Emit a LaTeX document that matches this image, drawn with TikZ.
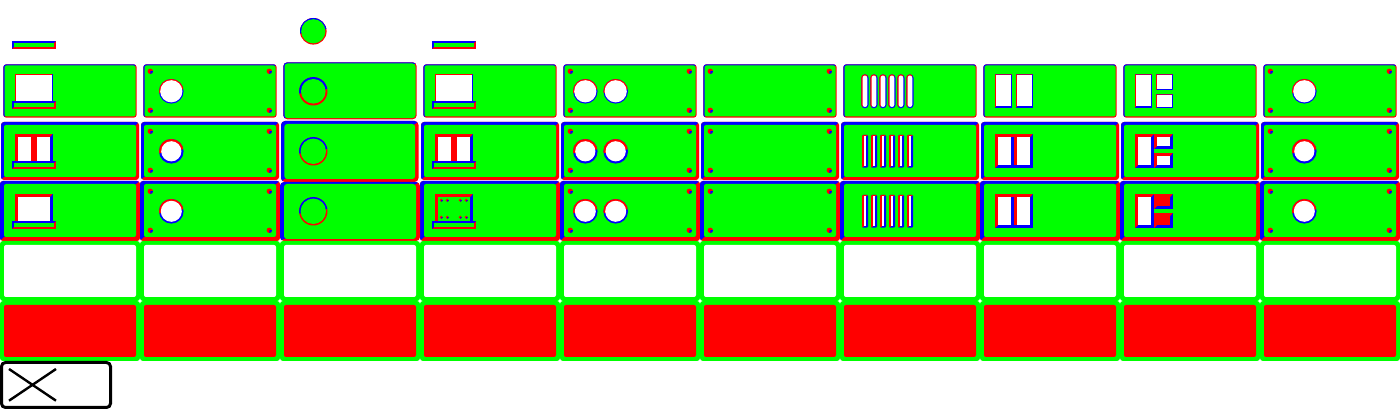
\documentclass[tikz,border=0pt]{standalone}
\definecolor{cb}{RGB}{0,0,255}
\definecolor{cr}{RGB}{255,0,0}
\definecolor{cg}{RGB}{0,255,0}
\def\raisedbv{\def\cA{cb}\def\cB{cr}}
\def\sunkbv{\def\cA{cr}\def\cB{cb}}
\def\bvr{0pt}\def\bvi{0pt}
% x0 y0 x1 y1 l t r b fill
\newcommand\bv[9]{%
 \pgfmathsetmacro\ixa{#1+#5}\pgfmathsetmacro\iya{#2+#6}%
 \pgfmathsetmacro\ixb{#3-#7}\pgfmathsetmacro\iyb{#4-#8}%
 \fill[\cB,rounded corners=\bvr] (#1,#2) rectangle (#3,#4);
 \begin{scope}
 \clip (#1,#2)--(#3,#2)--(\ixb,\iya)--(\ixa,\iyb)--(#1,#4)--cycle;
 \fill[\cA,rounded corners=\bvr] (#1,#2) rectangle (#3,#4);
 \end{scope}
 \fill[#9,rounded corners=\bvi] (\ixa,\iya) rectangle (\ixb,\iyb);
}
% cx cy r t A B fill
\newcommand\ringbv[7]{%
 \pgfmathsetmacro\pxa{#1-1.5*#3}\pgfmathsetmacro\pxb{#1+1.5*#3}%
 \pgfmathsetmacro\pya{#2+0.25*#3}\pgfmathsetmacro\pyb{#2-0.25*#3}%
 \pgfmathsetmacro\pyc{#2-2*#3}\pgfmathsetmacro\rin{#3-#4}%
 \fill[#6] (#1,#2) circle[radius=#3];
 \begin{scope}
 \clip (\pxa,\pya)--(\pxb,\pyb)--(\pxb,\pyc)--(\pxa,\pyc)--cycle;
 \fill[#5] (#1,#2) circle[radius=#3];
 \end{scope}
 \fill[#7] (#1,#2) circle[radius=\rin];
}
% cx cy r
\newcommand\screw[3]{%
 \fill[cr] (#1,#2) circle[radius=#3];
 \begin{scope}
 \clip (#1,#2) rectangle ++(5,5);
 \fill[cb] (#1,#2) circle[radius=#3];
 \end{scope}
}
% four screws of a panel, local x, row offset
\newcommand\fourscrews[1]{%
 \pgfmathsetmacro\sya{71.3+#1}\pgfmathsetmacro\syb{110.3+#1}%
 \screw{10.3}{\sya}{2.7}\screw{129.3}{\sya}{2.7}%
 \screw{10.3}{\syb}{2.7}\screw{129.3}{\syb}{2.7}%
}
\newcommand\sillbv[1]{%
 \raisedbv\def\bvr{0pt}\def\bvi{0pt}%
 \pgfmathsetmacro\sye{#1+8}%
 \bv{12}{#1}{56}{\sye}{2}{2}{2}{2}{cg}%
}
\newcommand\atcol[2]{\begin{scope}[shift={(140*#1,0)}]#2\end{scope}}
\begin{document}
\begin{tikzpicture}[x=0.75pt,y=-0.75pt]
\useasboundingbox (0,0) rectangle (1400,409);
\fill[white] (0,0) rectangle (1400,409);
% top icons
\atcol{0}{\sillbv{41}}
\atcol{3}{\sillbv{41}}
\ringbv{313.3}{31.3}{13.3}{1.2}{cb}{cr}{cg}
% panels
\raisedbv
\foreach \i in {0,1,3,4,5,6,7,8,9}{
 \begin{scope}[shift={(140*\i,0)}]
 \def\bvr{2.25pt}\def\bvi{1.5pt}
 \bv{3.3}{64.3}{136.7}{117.7}{1.2}{1.2}{1.2}{1.2}{cg}
 \bv{1}{122}{139}{180}{3}{3}{3}{3}{cg}
 \bv{0}{181}{140}{241}{4}{3}{4}{4}{cg}
 \end{scope}
}
\def\bvr{3pt}\def\bvi{2.25pt}
\bv{283.3}{62.3}{416.7}{119.3}{1.2}{1.2}{1.2}{1.2}{cg}
\bv{281}{121}{418.5}{182}{3.3}{3}{3.3}{3}{cg}
\bv{280}{182}{420}{241}{4}{2}{4}{2}{cg}
% white and red rows
\foreach \i in {0,...,9}{
 \begin{scope}[shift={(140*\i,0)}]
 \fill[cg,rounded corners=2.25pt] (0,241) rectangle (140,301);
 \fill[white,rounded corners=1.5pt] (4,245) rectangle (136,297);
 \fill[cg,rounded corners=2.25pt] (0,301) rectangle (140,361);
 \fill[cr,rounded corners=1.5pt] (4,305) rectangle (136,357);
 \end{scope}
}
% column 0 and 3 windows
\sunkbv\def\bvr{0pt}\def\bvi{0pt}
\foreach \i in {0,3}{
 \begin{scope}[shift={(140*\i,0)}]
 \sunkbv
 \bv{15}{74}{53}{103}{1.2}{1.2}{1.2}{0}{white}
 \sillbv{101}
 \sunkbv
 \bv{15}{134}{53}{163}{3}{3}{3}{0}{white}
 \fill[cr] (31,137) rectangle (37,161);
 \sillbv{161}
 \end{scope}
}
\sunkbv
\bv{15}{194}{53}{223}{3}{3}{3}{0}{white}
\sillbv{221}
\begin{scope}[shift={(420,0)}]
 \sunkbv
 \bv{15}{194}{53}{223}{3}{3}{3}{0}{cg}
 \sillbv{221}
 \foreach \sx in {21.3,27.3,40.3,46.3}{
 \foreach \sy in {200.3,217.3}{
 \screw{\sx}{\sy}{1.7}
 }}
\end{scope}
% screws
\foreach \i in {1,4,5,9}{
 \begin{scope}[shift={(140*\i,0)}]
 \fourscrews{0}\fourscrews{60}\fourscrews{120}
 \end{scope}
}
% round holes
\foreach \c in {171.3,585.3,615.7,1304.3}{
 \ringbv{\c}{91.3}{12.3}{1.2}{cr}{cb}{white}
 \ringbv{\c}{151.3}{12.3}{2.2}{cr}{cb}{white}
 \ringbv{\c}{211.3}{12.3}{1.8}{cr}{cb}{white}
}
% column 2 rings
\ringbv{313.3}{91.3}{14.2}{1.9}{cb}{cr}{cg}
\ringbv{313.3}{151.3}{14.2}{1.5}{cb}{cr}{cg}
\ringbv{313.3}{211.3}{14.2}{1.5}{cb}{cr}{cg}
% column 6 slots
\sunkbv
\foreach \k in {0,...,5}{
 \begin{scope}[shift={(840+9*\k,0)}]
 \def\bvr{2.7pt}\def\bvi{2pt}
 \bv{21.3}{74.3}{28.6}{108.3}{1.2}{1.2}{1.2}{1.2}{white}
 \def\bvr{0.75pt}\def\bvi{0pt}
 \bv{22}{135}{28}{167.7}{2}{1.5}{2}{1.5}{white}
 \bv{22}{195}{28}{227.7}{2}{1.5}{2}{1.5}{white}
 \end{scope}
}
\def\bvr{0pt}\def\bvi{0pt}
% column 7 panes
\bv{995}{74.3}{1012}{107.7}{1.2}{1.2}{1.2}{1.2}{white}
\bv{1016}{74.3}{1033}{107.7}{1.2}{1.2}{1.2}{1.2}{white}
\foreach \dy in {0,60}{
 \begin{scope}[shift={(0,\dy)}]
 \bv{995}{134}{1033}{168}{3}{3}{3}{3}{white}
 \fill[cb] (1011,137) rectangle (1014,165);
 \fill[cr] (1014,137) rectangle (1017,165);
 \end{scope}
}
% column 8 panes
\bv{1135}{74.3}{1152}{107.7}{1.2}{1.2}{1.2}{1.2}{white}
\bv{1156}{74.3}{1173}{90}{1.2}{1.2}{1.2}{1.2}{white}
\bv{1156}{94.3}{1173}{108}{1.2}{1.2}{1.2}{1.2}{white}
\bv{1135}{134}{1154}{168}{3}{3}{3}{3}{white}
\bv{1154}{134}{1173}{149}{3}{3}{3}{3}{white}
\bv{1154}{153}{1173}{168}{3}{3}{3}{3}{white}
\bv{1135}{194}{1154}{228}{3}{3}{3}{3}{white}
\bv{1154}{194}{1173}{209}{3}{3}{3}{3}{cr}
\bv{1154}{213}{1173}{228}{3}{3}{3}{3}{cr}
% legend box
\draw[black,line width=2.25pt,rounded corners=3pt] (1.5,362.5) rectangle (110.5,407.5);
\draw[black,line width=1.8pt] (9,369) -- (56,400.7);
\draw[black,line width=1.8pt] (9,400.7) -- (56,369);
\end{tikzpicture}
\end{document}
